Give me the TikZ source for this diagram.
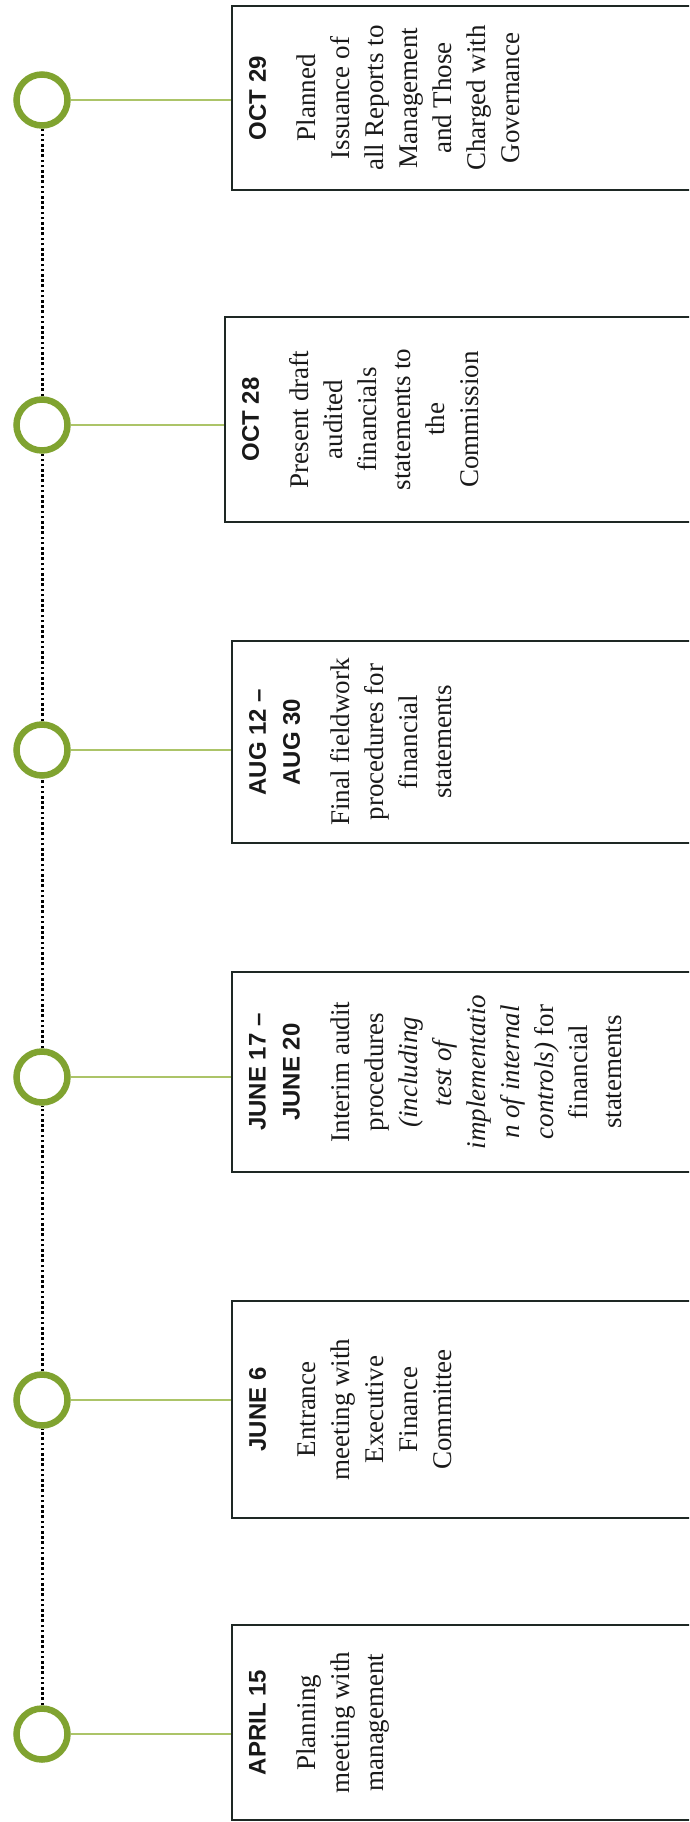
\documentclass[tikz,border=0pt]{standalone}
\usepackage{fontspec}
\setmainfont{Liberation Serif}
\setsansfont{Liberation Sans}

\definecolor{ringgreen}{RGB}{128,163,48}
\definecolor{linkgreen}{RGB}{172,196,104}
\definecolor{boxline}{RGB}{30,40,36}

\newcommand{\datehd}[1]{{\fontsize{24}{34}\selectfont\sffamily\bfseries #1}}

\begin{document}
\begin{tikzpicture}[x=1pt, y=1pt,
    milestone/.style={circle, draw=ringgreen, line width=6.5pt, minimum size=51pt, inner sep=0pt},
    eventbox/.style={rectangle, draw=boxline, line width=2.4pt, rotate=90, anchor=north, minimum height=480pt},
    eventtext/.style={rotate=90, anchor=north, align=center, inner sep=0pt, text=black!90, font=\fontsize{27}{34}\selectfont},
    link/.style={draw=linkgreen, line width=2pt},
    track/.style={draw=black, line width=3pt, dash pattern=on 2.6pt off 2.6pt}
]

% Page frame (boxes run off the right edge)
\useasboundingbox (0,0) rectangle (689,-1822);
\clip (0,0) rectangle (689,-1822);

% Milestone rings, bottom (earliest) to top
\node[milestone] (m1) at (42,-1734) {};
\node[milestone] (m2) at (42,-1400) {};
\node[milestone] (m3) at (42,-1077) {};
\node[milestone] (m4) at (42,-750) {};
\node[milestone] (m5) at (42,-425) {};
\node[milestone] (m6) at (42,-100) {};

% Dotted time line
\draw[track] (m1) -- (m2);
\draw[track] (m2) -- (m3);
\draw[track] (m3) -- (m4);
\draw[track] (m4) -- (m5);
\draw[track] (m5) -- (m6);

% Event boxes
\node[eventbox, minimum width=195pt] (box1) at (231,-1722.5) {};
\node[eventbox, minimum width=217pt] (box2) at (231,-1409.5) {};
\node[eventbox, minimum width=200pt] (box3) at (231,-1072) {};
\node[eventbox, minimum width=202pt] (box4) at (231,-742) {};
\node[eventbox, minimum width=205pt] (box5) at (224,-419.5) {};
\node[eventbox, minimum width=184pt] (box6) at (231,-98) {};

% Links from rings to boxes
\draw[link] (m1) -- (m1 -| box1.north);
\draw[link] (m2) -- (m2 -| box2.north);
\draw[link] (m3) -- (m3 -| box3.north);
\draw[link] (m4) -- (m4 -| box4.north);
\draw[link] (m5) -- (m5 -| box5.north);
\draw[link] (m6) -- (m6 -| box6.north);

% Box texts
\node[eventtext] (txt1) at (249,-1722.5) {\datehd{APRIL 15}\\[16pt]
  Planning\\meeting with\\management};
\node[eventtext] (txt2) at (249,-1409.5) {\datehd{JUNE 6}\\[16pt]
  Entrance\\meeting with\\Executive\\Finance\\Committee};
\node[eventtext] (txt3) at (249,-1072) {\datehd{JUNE 17 –}\\\datehd{JUNE 20}\\[16pt]
  Interim audit\\procedures\\\textit{(including}\\\textit{test of}\\\textit{implementatio}\\\textit{n of internal}\\\textit{controls)} for\\financial\\statements};
\node[eventtext] (txt4) at (249,-742) {\datehd{AUG 12 –}\\\datehd{AUG 30}\\[16pt]
  Final fieldwork\\procedures for\\financial\\statements};
\node[eventtext] (txt5) at (242,-419.5) {\datehd{OCT 28}\\[16pt]
  Present draft\\audited\\financials\\statements to\\the\\Commission};
\node[eventtext] (txt6) at (249,-98) {\datehd{OCT 29}\\[16pt]
  Planned\\Issuance of\\all Reports to\\Management\\and Those\\Charged with\\Governance};

\end{tikzpicture}
\end{document}
